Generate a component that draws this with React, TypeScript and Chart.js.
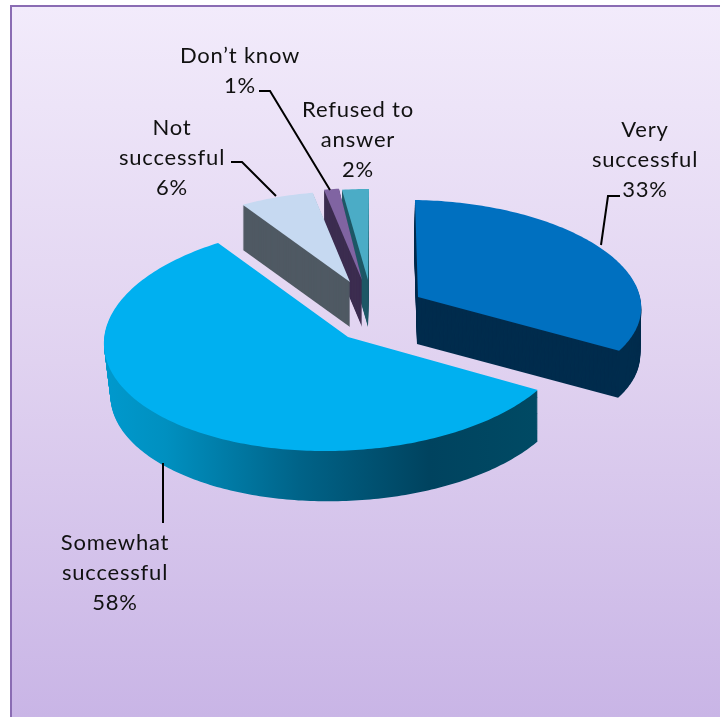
import React, { useEffect, useRef } from "react";
import { Chart, registerables } from "chart.js";

Chart.register(...registerables);

const categories = ["Very successful", "Somewhat successful", "Not successful", "Don’t know", "Refused to answer"];
const shares = [33, 58, 6, 1, 2];
const topColors = ["#0070c0", "#00b0f0", "#c6d9f1", "#8064a2", "#4bacc6"];
const wallColors = ["#002c4d", "gradient", "#4f5963", "#3c2d50", "#1f5866"];

// How each wedge of the flat pie is laid onto the tilted plane.
// apex: the wedge's point; center: middle of its rim ellipse; u, v: ellipse axes for sin and cos of the angle.
// drop: how far the underside sits below the top face; shrink: size of the lower rim relative to the upper one.
const wedgeFrames = [
  { apex: [418, 297], center: [425, 300], u: [216, 3], v: [-10, -100], drop: [-1, 47], shrink: 1 },
  { apex: [348, 337], center: [337, 337.5], u: [233, -2.5], v: [7, -113.5], drop: [3, 52], shrink: 0.985 },
  { apex: [350, 282], center: [350, 282], u: [201, 1.4], v: [0.5, -90.5], drop: [0, 45], shrink: 1 },
  { apex: [362, 280], center: [362, 280], u: [242, 0], v: [7.4, -92], drop: [0, 47], shrink: 1 },
  { apex: [368, 280], center: [368, 280], u: [216, 0], v: [1, -91], drop: [0, 47], shrink: 1 },
];
const paintOrder = [4, 3, 2, 0, 1];

const labelLines = [
  ["Very", "successful"],
  ["Somewhat", "successful"],
  ["Not", "successful"],
  ["Don’t know"],
  ["Refused to", "answer"],
];
const labelAnchors = [
  [645, 130],
  [115, 543],
  [172, 128],
  [240, 56],
  [358, 110],
];
const leaders = [
  [[620, 196], [608, 196], [601, 245]],
  [[163, 463], [163, 523]],
  [[231, 162], [242, 162], [276, 196]],
  [[259, 91], [270, 91], [330, 190]],
];

function tracePath(ctx: CanvasRenderingContext2D, arc: any, frame: any, progress: number) {
  const from = arc.startAngle + Math.PI / 2;
  const to = arc.endAngle + Math.PI / 2;
  const steps = Math.max(6, Math.ceil(((to - from) * 180) / Math.PI));
  const dx = frame.drop[0] * progress;
  const dy = frame.drop[1] * progress;
  const k = 1 + (frame.shrink - 1) * progress;
  ctx.beginPath();
  ctx.moveTo(frame.apex[0] + dx, frame.apex[1] + dy);
  for (let i = 0; i <= steps; i++) {
    const a = from + ((to - from) * i) / steps;
    const s = Math.sin(a);
    const c = Math.cos(a);
    ctx.lineTo(
      frame.center[0] + k * (frame.u[0] * s + frame.v[0] * c) + dx,
      frame.center[1] + k * (frame.u[1] * s + frame.v[1] * c) + dy
    );
  }
  ctx.closePath();
}

const panelPlugin = {
  id: "panel",
  beforeDraw(chart: any) {
    const { ctx, width, height } = chart;
    const fade = ctx.createLinearGradient(0, 6, 0, height);
    fade.addColorStop(0, "#f2ebfb");
    fade.addColorStop(0.5, "#e0d2f0");
    fade.addColorStop(1, "#c9b5e6");
    ctx.save();
    ctx.fillStyle = "#ffffff";
    ctx.fillRect(0, 0, width, height);
    ctx.fillStyle = fade;
    ctx.fillRect(10, 6, width - 10, height - 6);
    ctx.fillStyle = "#8a6cb3";
    ctx.fillRect(10, 5, width - 10, 2);
    ctx.fillRect(10, 5, 2, height - 5);
    ctx.restore();
  },
};

const tiltedPiePlugin = {
  id: "tiltedPie",
  // The wedges are painted here on the tilted plane, so the flat default pass is skipped.
  beforeDatasetsDraw(chart: any) {
    const { ctx } = chart;
    const arcs = chart.getDatasetMeta(0).data;
    ctx.save();
    for (const i of paintOrder) {
      const arc = arcs[i];
      const frame = wedgeFrames[i];
      let wall: any = wallColors[i];
      if (wall === "gradient") {
        wall = ctx.createLinearGradient(105, 0, 537, 0);
        wall.addColorStop(0, "#0099cd");
        wall.addColorStop(0.14, "#0090c0");
        wall.addColorStop(0.45, "#006388");
        wall.addColorStop(0.75, "#00435f");
        wall.addColorStop(1, "#004a64");
      }
      ctx.fillStyle = wall;
      const depth = frame.drop[1];
      for (let t = depth; t > 0; t--) {
        tracePath(ctx, arc, frame, t / depth);
        ctx.fill();
      }
      ctx.fillStyle = arc.options.backgroundColor;
      tracePath(ctx, arc, frame, 0);
      ctx.fill();
    }
    ctx.restore();
    return false;
  },
  afterDraw(chart: any) {
    const { ctx } = chart;
    ctx.save();
    ctx.strokeStyle = "#000000";
    ctx.lineWidth = 2;
    for (const line of leaders) {
      ctx.beginPath();
      line.forEach(([x, y], k) => (k ? ctx.lineTo(x, y) : ctx.moveTo(x, y)));
      ctx.stroke();
    }
    ctx.fillStyle = "#111111";
    ctx.font = '22px Lato, "Open Sans", sans-serif';
    (ctx as any).letterSpacing = "0.8px";
    ctx.textAlign = "center";
    ctx.textBaseline = "middle";
    categories.forEach((_, i) => {
      const [x, y] = labelAnchors[i];
      const rows = [...labelLines[i], `${shares[i]}%`];
      rows.forEach((row, r) => ctx.fillText(row, x, y + r * 30));
    });
    ctx.restore();
  },
};

export default function App() {
  const canvasRef = useRef<HTMLCanvasElement>(null);

  useEffect(() => {
    if (!canvasRef.current) return;
    const chart = new Chart(canvasRef.current, {
      type: "pie",
      data: {
        labels: categories,
        datasets: [{ data: shares, backgroundColor: topColors, borderWidth: 0 }],
      },
      options: {
        responsive: false,
        animation: false,
        plugins: { legend: { display: false }, tooltip: { enabled: false } },
      },
      plugins: [panelPlugin, tiltedPiePlugin],
    } as any);
    return () => chart.destroy();
  }, []);

  return (
    <div style={{ position: "absolute", left: 0, top: 0, width: 720, height: 717 }}>
      <canvas ref={canvasRef} width={720} height={717} style={{ display: "block" }} />
    </div>
  );
}
